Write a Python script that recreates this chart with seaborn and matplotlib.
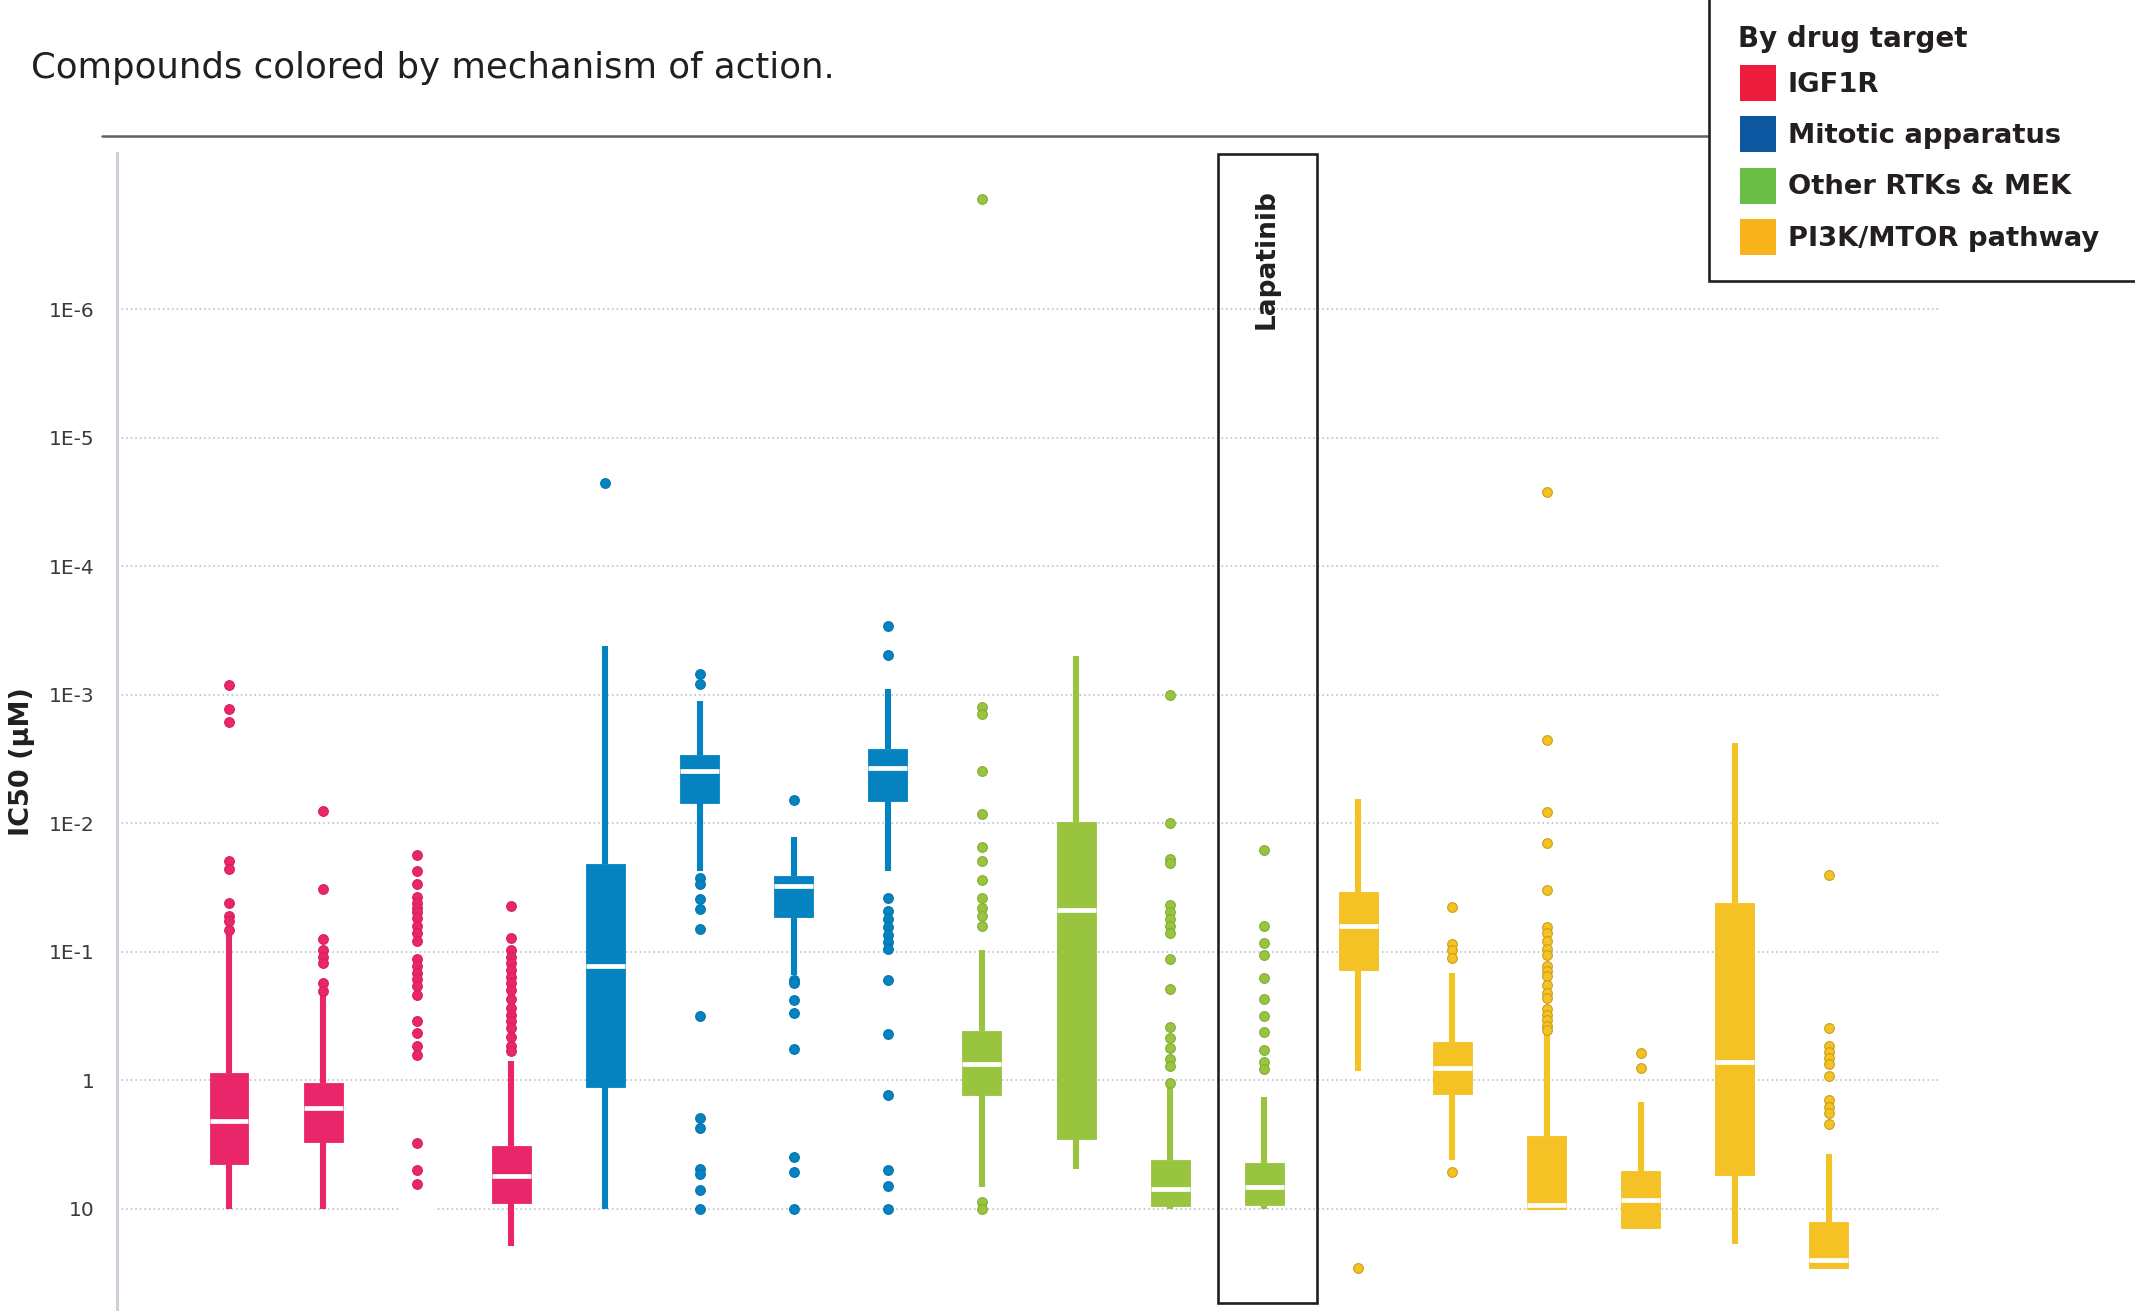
import numpy as np
import pandas as pd
import matplotlib
matplotlib.use("Agg")
import matplotlib.pyplot as plt
import matplotlib.transforms as mtransforms
from matplotlib.patches import Rectangle
from matplotlib.lines import Line2D
from matplotlib.ticker import NullLocator
import seaborn as sns

# ---------------------------------------------------------------------------
# Data: IC50 (µM) distributions per compound, summarised as box statistics
# (smallest value inside whiskers, quartiles, median, largest value) plus the
# individual outlying cell lines.
# ---------------------------------------------------------------------------
compounds = [
    "IGF1R-1", "IGF1R-2", "IGF1R-3", "IGF1R-4",
    "MIT-1", "MIT-2", "MIT-3", "MIT-4",
    "RTK-1", "RTK-2", "RTK-3", "Lapatinib",
    "PI3K-1", "PI3K-2", "PI3K-3", "PI3K-4", "PI3K-5", "PI3K-6",
]
targets = (["IGF1R"] * 4 + ["Mitotic apparatus"] * 4
           + ["Other RTKs & MEK"] * 4 + ["PI3K/MTOR pathway"] * 6)

ic50_min = [0.070, 0.206, 10, 0.71,
            4.2e-4, 1.11e-3, 0.0127, 9.1e-4,
            0.097, 5.0e-4, 1.12, 1.35,
            6.5e-3, 0.145, 0.41, 1.48, 2.37e-3, 3.73]
ic50_q1 = [0.88, 1.045, 10, 3.24,
           0.0209, 2.95e-3, 0.0258, 2.65e-3,
           0.41, 9.8e-3, 4.17, 4.43,
           0.034, 0.50, 2.72, 5.1, 0.042, 12.6]
ic50_median = [2.06, 1.65, 10, 5.58,
               0.129, 3.89e-3, 0.031, 3.7e-3,
               0.74, 0.047, 7.05, 6.7,
               0.063, 0.80, 9.3, 8.5, 0.72, 25.0]
ic50_q3 = [4.47, 3.04, 10, 8.93,
           1.12, 6.9e-3, 0.0533, 6.7e-3,
           1.31, 2.86, 9.5, 9.4,
           0.138, 1.28, 10, 14.1, 5.4, 28.9]
ic50_max = [10, 10, 10, 19.5,
            10, 0.0236, 0.152, 0.0236,
            6.7, 4.9, 10, 10,
            0.84, 4.14, 10, 14.1, 18.9, 28.9]

outliers = [
    [8.4e-4, 1.29e-3, 1.63e-3, 0.0196, 0.0226, 0.042, 0.053, 0.058, 0.0676],
    [0.0080, 0.0324, 0.0794, 0.097, 0.109, 0.123, 0.174, 0.20],
    [0.0177, 0.0234, 0.0297, 0.0372, 0.0419, 0.0454, 0.049, 0.055, 0.063,
     0.0708, 0.0826, 0.114, 0.129, 0.145, 0.162, 0.183, 0.215, 0.348, 0.43,
     0.537, 0.63, 3.07, 5.0, 6.4],
    [0.0437, 0.078, 0.097, 0.109, 0.123, 0.139, 0.156, 0.176, 0.199, 0.233,
     0.273, 0.308, 0.347, 0.392, 0.459, 0.538, 0.593],
    [2.27e-5],
    [6.9e-4, 8.3e-4, 0.0265, 0.0295, 0.0389, 0.0468, 0.067, 0.315, 1.95,
     2.33, 4.9, 5.37, 7.08, 10],
    [6.6e-3, 0.166, 0.174, 0.239, 0.30, 0.569, 3.92, 5.14, 10],
    [2.9e-4, 4.9e-4, 0.0378, 0.0478, 0.0558, 0.064, 0.0734, 0.0841, 0.0946,
     0.166, 0.4325, 1.29, 4.97, 6.64, 10],
    [1.4e-7, 1.25e-3, 1.42e-3, 3.92e-3, 8.4e-3, 0.01535, 0.0195, 0.0277,
     0.0378, 0.0457, 0.0531, 0.0625, 8.83, 10],
    [],
    [1.01e-3, 9.9e-3, 0.019, 0.0202, 0.043, 0.0486, 0.0552, 0.0625, 0.0709,
     0.114, 0.193, 0.385, 0.464, 0.56, 0.676, 0.767, 1.05],
    [0.01614, 0.0625, 0.0855, 0.1057, 0.16, 0.233, 0.318, 0.42, 0.582, 0.72,
     0.817],
    [28.8],
    [0.0448, 0.0863, 0.097, 0.112, 5.19],
    [2.67e-5, 2.23e-3, 8.2e-3, 0.01435, 0.033, 0.0644, 0.071, 0.082, 0.095,
     0.105, 0.128, 0.141, 0.155, 0.18, 0.208, 0.23, 0.28, 0.308, 0.34,
     0.375, 0.406],
    [0.61, 0.80],
    [],
    [0.0252, 0.391, 0.536, 0.60, 0.671, 0.751, 0.92, 1.425, 1.6, 1.79, 2.2],
]

target_names = ["IGF1R", "Mitotic apparatus", "Other RTKs & MEK",
                "PI3K/MTOR pathway"]
box_colors = ["#e9266a", "#0583c1", "#98c43f", "#f4c225"]
dot_edges = ["#d81f5e", "#0574ab", "#82ad35", "#c9a01c"]
legend_colors = ["#ed1c3d", "#0d58a1", "#6bbd45", "#f8b21b"]

ytick_values = [1e-6, 1e-5, 1e-4, 1e-3, 1e-2, 1e-1, 1, 10]
ytick_labels = ["1E-6", "1E-5", "1E-4", "1E-3", "1E-2", "1E-1", "1", "10"]

# Long-form tables: five summary points per compound (their percentiles are
# exactly the box statistics) and one row per outlying cell line.
box_rows = []
for c, t, a, b, m, d, e in zip(compounds, targets, ic50_min, ic50_q1,
                                ic50_median, ic50_q3, ic50_max):
    for v in (a, b, m, d, e):
        box_rows.append({"compound": c, "target": t, "ic50": v})
box_df = pd.DataFrame(box_rows)

out_rows = []
for c, t, vals in zip(compounds, targets, outliers):
    for v in vals:
        out_rows.append({"compound": c, "target": t, "ic50": v})
out_df = pd.DataFrame(out_rows)

# ---------------------------------------------------------------------------
# Figure
# ---------------------------------------------------------------------------
sns.set_style("white")
plt.rcParams["font.family"] = ["DejaVu Sans"]

W, H = 2135, 1311
fig = plt.figure(figsize=(W / 100, H / 100), dpi=100)


def fx(px):
    return px / W


def fy(py):
    return 1 - py / H


ax_left, ax_right, ax_top = 117, 1940, 152.5
ax = fig.add_axes([fx(ax_left), 0, fx(ax_right - ax_left), (H - ax_top) / H])
ax.set_yscale("log")

for name, col in zip(target_names, box_colors):
    sub = box_df[box_df["target"] == name]
    sns.boxplot(
        data=sub, x="compound", y="ic50", order=compounds,
        color=col, linecolor=col, saturation=1, width=0.414,
        whis=(0, 100), showfliers=False, linewidth=0.6, ax=ax,
        whiskerprops=dict(linewidth=4.4, solid_capstyle="butt"),
        medianprops=dict(color="white", linewidth=3.4, solid_capstyle="butt"),
        capprops=dict(linewidth=0),
    )

for name, col, edge in zip(target_names, box_colors, dot_edges):
    sub = out_df[out_df["target"] == name]
    sns.stripplot(
        data=sub, x="compound", y="ic50", order=compounds,
        color=col, jitter=False, size=7.0, linewidth=0.8, edgecolor=edge,
        ax=ax, zorder=3,
    )

# Axes styling: inverted log axis, dotted decade gridlines
ax.set_xlim(-1.19, 18.18)
ax.set_ylim(10 ** 1.794, 10 ** -7.218)
ax.set_yticks(ytick_values)
ax.set_yticklabels(ytick_labels)
ax.yaxis.set_minor_locator(NullLocator())
ax.set_xticks([])
ax.set_xlabel("")
ax.set_ylabel("")
ax.set_axisbelow(True)
ax.grid(axis="y", which="major", linestyle=(0, (1, 2)), color="#b4b8c4",
        linewidth=1.1)
ax.grid(axis="x", visible=False)
for side in ("top", "right", "bottom"):
    ax.spines[side].set_visible(False)
ax.spines["left"].set_color("#cdd1da")
ax.spines["left"].set_linewidth(2.2)
ax.tick_params(axis="y", which="major", length=7.2, width=1.1,
               color="#c3c7d0", pad=9.0, labelsize=14.5, labelcolor="#3a3a3a")
ax.set_facecolor("none")

# Highlight frame around Lapatinib
lap = compounds.index("Lapatinib")
blend = mtransforms.blended_transform_factory(ax.transData, ax.transAxes)
ax_h = H - ax_top
ax.add_patch(Rectangle((lap + (1217.7 - 1264.0) / 94.18, 8 / ax_h),
                       99 / 94.18, (1303 - 153.5) / ax_h,
                       transform=blend, fill=False, edgecolor="#231f20",
                       linewidth=1.9, clip_on=False, zorder=4))
ax.text(lap + 0.03, (H - 189) / ax_h, "Lapatinib", transform=blend,
        rotation=90, ha="center", va="top", fontsize=19, fontweight="bold",
        color="#231f20", zorder=5)

# Title, rule and y label
fig.text(fx(31), fy(78), "Compounds colored by mechanism of action.",
         fontsize=25.6, color="#231f20", ha="left", va="baseline")
fig.add_artist(Line2D([fx(102), fx(1709)], [fy(136), fy(136)],
                      color="#5b6167", linewidth=1.8))
fig.text(fx(22), fy(761.5), "IC50 (µM)", rotation=90, ha="center",
         va="center", fontsize=19.5, fontweight="bold", color="#231f20")

# Legend box
fig.add_artist(Rectangle((fx(1709), fy(281)), fx(440), 290 / H,
                         transform=fig.transFigure, facecolor="white",
                         edgecolor="#231f20", linewidth=1.9, zorder=5))
fig.text(fx(1738), fy(46.7), "By drug target", fontsize=20,
         fontweight="bold", color="#231f20", ha="left", va="baseline",
         zorder=6)
for i, (name, col) in enumerate(zip(target_names, legend_colors)):
    top = 65 + 51.3 * i
    fig.add_artist(Rectangle((fx(1740), fy(top + 36)), fx(36), 36 / H,
                             transform=fig.transFigure, facecolor=col,
                             edgecolor="none", zorder=6))
    fig.text(fx(1788), fy(91.7 + 51.3 * i), name, fontsize=19.7,
             fontweight="bold", color="#231f20", ha="left", va="baseline",
             zorder=6)

fig.savefig("out.png", dpi=100, facecolor="white")
